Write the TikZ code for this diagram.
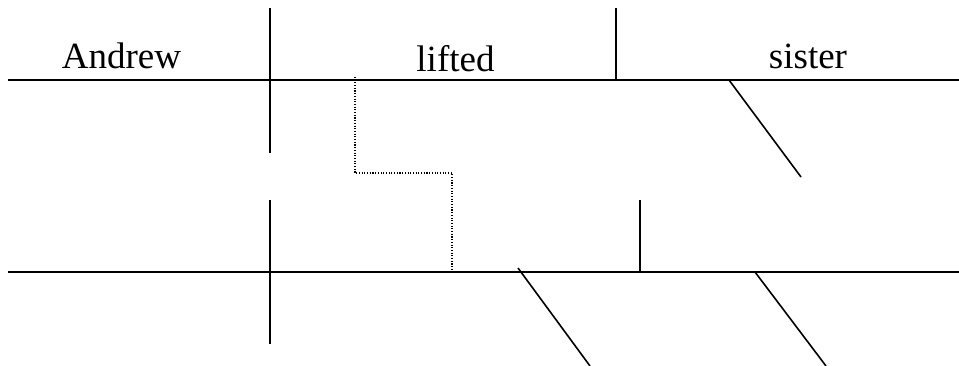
\documentclass[tikz,border=0pt]{standalone}
\usepackage{fontspec}
\setmainfont{Liberation Serif}
\begin{document}
\begin{tikzpicture}[x=1pt,y=-1pt,
  base/.style={line width=1.8pt,line cap=butt},
  modline/.style={line width=1.6pt},
  dotline/.style={line width=1.1pt,dash pattern=on 1.1pt off 1.6pt},
  word/.style={inner sep=0pt,anchor=base,font=\fontsize{37}{40}\selectfont}]
\useasboundingbox (0,0) rectangle (959,366);
% top line
\coordinate (tl) at (8,80);
\coordinate (tr) at (959,80);
\coordinate (v1t) at (270,8);
\coordinate (v1b) at (270,153);
\coordinate (v2t) at (616,8);
\coordinate (v2b) at (616,80);
\coordinate (d1a) at (729,80);
\coordinate (d1b) at (801,177);
% dotted connector
\coordinate (p1) at (355,77);
\coordinate (p2) at (355,173);
\coordinate (p3) at (452,173);
\coordinate (p4) at (452,269);
% bottom line
\coordinate (bl) at (8,272);
\coordinate (br) at (959,272);
\coordinate (v3t) at (270,200);
\coordinate (v3b) at (270,344);
\coordinate (v4t) at (640,200);
\coordinate (v4b) at (640,272);
\coordinate (d2a) at (518,268);
\coordinate (d2b) at (590,366);
\coordinate (d3a) at (755,272);
\coordinate (d3b) at (826,366);

\node[word] (andrew) at (121.5,69) {Andrew};
\node[word] (lifted) at (455.5,72) {lifted};
\node[word] (sister) at (808,69) {sister};

\draw[base] (tl) -- (tr);
\draw[base] (v1t) -- (v1b);
\draw[base] (v2t) -- (v2b);
\draw[modline] (d1a) -- (d1b);
\draw[dotline] (p1) -- (p2) -- (p3) -- (p4);
\draw[base] (bl) -- (br);
\draw[base] (v3t) -- (v3b);
\draw[base] (v4t) -- (v4b);
\draw[modline] (d2a) -- (d2b);
\draw[modline] (d3a) -- (d3b);
\end{tikzpicture}
\end{document}
